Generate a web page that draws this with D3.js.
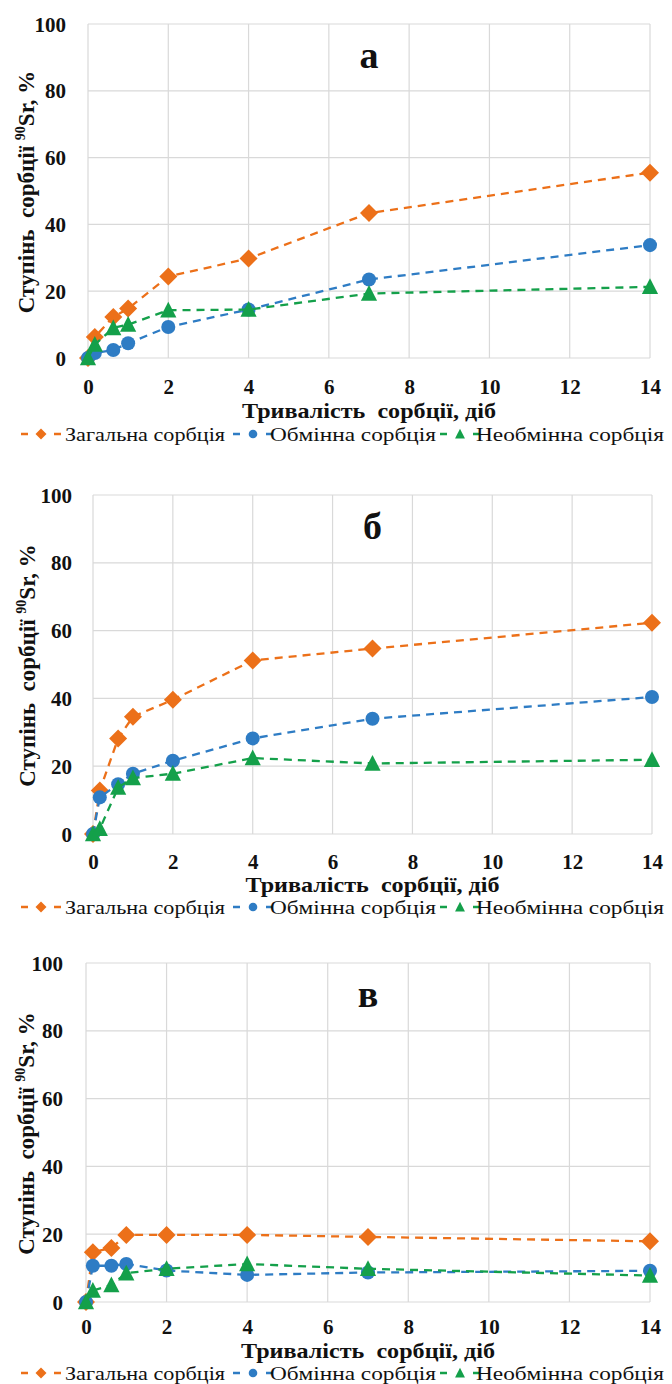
<!DOCTYPE html>
<html>
<head>
<meta charset="utf-8">
<script src="https://cdn.jsdelivr.net/npm/d3@7"></script>
<style>
  body { margin: 0; background: #fff; }
  svg { display: block; }
  svg text { font-family: "Liberation Serif", "DejaVu Serif", serif; }
</style>
</head>
<body>
<svg id="chart" width="672" height="1384"></svg>
<script>
// sorption time, days
const days = [0, 0.17, 0.63, 1, 2, 4, 7, 14];
const xTicks = [0, 2, 4, 6, 8, 10, 12, 14];
const yTicks = [0, 20, 40, 60, 80, 100];
const seriesNames = ['Загальна сорбція', 'Обмінна сорбція', 'Необмінна сорбція'];
const panelLabels = ['а', 'б', 'в'];

// panel а
const totalA = [0, 6.3, 12.3, 14.8, 24.4, 29.8, 43.4, 55.5];
const exchangeA = [0, 1.5, 2.4, 4.4, 9.3, 14.5, 23.5, 33.8];
const fixedA = [0, 4.0, 9.0, 10.0, 14.3, 14.5, 19.3, 21.3];
// panel б
const totalB = [0, 12.8, 28.2, 34.6, 39.6, 51.2, 54.7, 62.3];
const exchangeB = [0, 10.8, 14.7, 17.8, 21.6, 28.2, 34.0, 40.4];
const fixedB = [0, 1.5, 13.7, 16.5, 17.8, 22.4, 20.8, 21.9];
// panel в
const totalC = [0, 14.7, 15.9, 19.8, 19.8, 19.8, 19.2, 17.9];
const exchangeC = [0, 10.7, 10.7, 11.2, 9.3, 8.0, 8.7, 9.2];
const fixedC = [0, 3.4, 5.0, 8.5, 9.8, 11.2, 9.8, 7.8];

const panelData = [
  [totalA, exchangeA, fixedA],
  [totalB, exchangeB, fixedB],
  [totalC, exchangeC, fixedC],
];

const colors = ['#EC7019', '#2E7CC4', '#14A04A'];
const gridColor = '#d9d9d9';
const textColor = '#111';
const serif = '"Liberation Serif", "DejaVu Serif", serif';

// plot boxes
const boxes = [
  { left: 88, right: 650, top: 24, bottom: 358, tickRight: 66, tickPad: 36, titleX: 34, titleY: 418, legendY: 441 },
  { left: 93, right: 652, top: 495, bottom: 834, tickRight: 72, tickPad: 35, titleX: 35, titleY: 892, legendY: 914 },
  { left: 86, right: 650, top: 963, bottom: 1302, tickRight: 63, tickPad: 32, titleX: 34, titleY: 1358, legendY: 1380 },
];

// legend entries: marker centre x, text start x, text width
const legendItems = [
  { cx: 41, tx: 65, w: 160 },
  { cx: 253, tx: 270, w: 166 },
  { cx: 460, tx: 476, w: 188 },
];

const svg = d3.select('#chart');

function marker(sel, kind, s, color) {
  if (kind === 1) {
    sel.append('circle').attr('r', s * 0.78).attr('fill', color);
  } else if (kind === 0) {
    sel.append('path').attr('d', `M0,${-s}L${s},0L0,${s}L${-s},0Z`).attr('fill', color);
  } else {
    sel.append('path')
      .attr('d', `M0,${-s * 0.95}L${s * 0.9},${s * 0.8}L${-s * 0.9},${s * 0.8}Z`)
      .attr('fill', color);
  }
}

boxes.forEach((b, pi) => {
  const g = svg.append('g');
  const x = d3.scaleLinear().domain([0, 14]).range([b.left, b.right]);
  const y = d3.scaleLinear().domain([0, 100]).range([b.bottom, b.top]);

  // grid
  g.append('g').selectAll('line').data(yTicks).join('line')
    .attr('x1', b.left).attr('x2', b.right)
    .attr('y1', d => y(d)).attr('y2', d => y(d))
    .attr('stroke', gridColor).attr('stroke-width', 1.2);
  g.append('g').selectAll('line').data(xTicks).join('line')
    .attr('y1', b.top).attr('y2', b.bottom)
    .attr('x1', d => x(d)).attr('x2', d => x(d))
    .attr('stroke', gridColor).attr('stroke-width', 1.2);

  // axes via d3 axis generators, styled like the Excel original
  const xAxis = g.append('g').attr('transform', `translate(0,${b.bottom})`)
    .call(d3.axisBottom(x).tickValues(xTicks).tickSize(0).tickPadding(b.tickPad));
  const yAxis = g.append('g').attr('transform', `translate(${b.tickRight},0)`)
    .call(d3.axisLeft(y).tickValues(yTicks).tickSize(0).tickPadding(0));
  [xAxis, yAxis].forEach(a => {
    a.attr('font-family', null);
    a.select('.domain').remove();
    a.selectAll('text')
      .style('font-family', serif)
      .style('font-size', '21px').style('font-weight', 'bold').attr('fill', textColor);
  });
  xAxis.selectAll('text').attr('dy', 0);
  yAxis.selectAll('text').attr('dy', '0.34em');

  // axis titles
  g.append('text')
    .attr('x', (b.left + b.right) / 2).attr('y', b.titleY)
    .attr('text-anchor', 'middle').style('font-size', '21px').style('font-weight', 'bold')
    .attr('fill', textColor).style('white-space', 'pre')
    .attr('textLength', 254).attr('lengthAdjust', 'spacingAndGlyphs')
    .text('Тривалість  сорбції, діб');

  const yt = g.append('text')
    .attr('transform', `translate(${b.titleX},${(b.top + b.bottom) / 2 + 1}) rotate(-90)`)
    .attr('text-anchor', 'middle').style('font-size', '23px').style('font-weight', 'bold')
    .attr('fill', textColor).style('white-space', 'pre');
  yt.append('tspan').text('Ступінь  сорбції ');
  yt.append('tspan').style('font-size', '14px').attr('dy', -9).text('90');
  yt.append('tspan').attr('dy', 9).text('Sr, %');

  // panel letter
  g.append('text')
    .attr('x', x(7)).attr('y', b.top + 44)
    .attr('text-anchor', 'middle').style('font-size', '38px').style('font-weight', 'bold')
    .attr('fill', textColor).text(panelLabels[pi]);

  // series
  const line = d3.line().x(d => x(d[0])).y(d => y(d[1]));
  panelData[pi].forEach((vals, si) => {
    const pts = days.map((d, i) => [d, vals[i]]);
    g.append('path').datum(pts).attr('d', line)
      .attr('fill', 'none').attr('stroke', colors[si])
      .attr('stroke-width', 2.3).attr('stroke-dasharray', '8,6');
    g.append('g').selectAll('g').data(pts).join('g')
      .attr('transform', d => `translate(${x(d[0])},${y(d[1])})`)
      .each(function () { marker(d3.select(this), si, 9, colors[si]); });
  });

  // legend
  const ly = b.legendY;
  legendItems.forEach((it, si) => {
    const lg = g.append('g');
    lg.append('line')
      .attr('x1', it.cx - 20).attr('x2', it.cx + 20)
      .attr('y1', ly - 7).attr('y2', ly - 7)
      .attr('stroke', colors[si]).attr('stroke-width', 2.3)
      .attr('stroke-dasharray', '7,26');
    const m = lg.append('g').attr('transform', `translate(${it.cx},${ly - 7})`);
    marker(m, si, 5.5, colors[si]);
    lg.append('text')
      .attr('x', it.tx).attr('y', ly)
      .style('font-size', '19px').attr('fill', textColor)
      .attr('textLength', it.w).attr('lengthAdjust', 'spacingAndGlyphs')
      .text(seriesNames[si]);
  });
});
</script>
</body>
</html>
